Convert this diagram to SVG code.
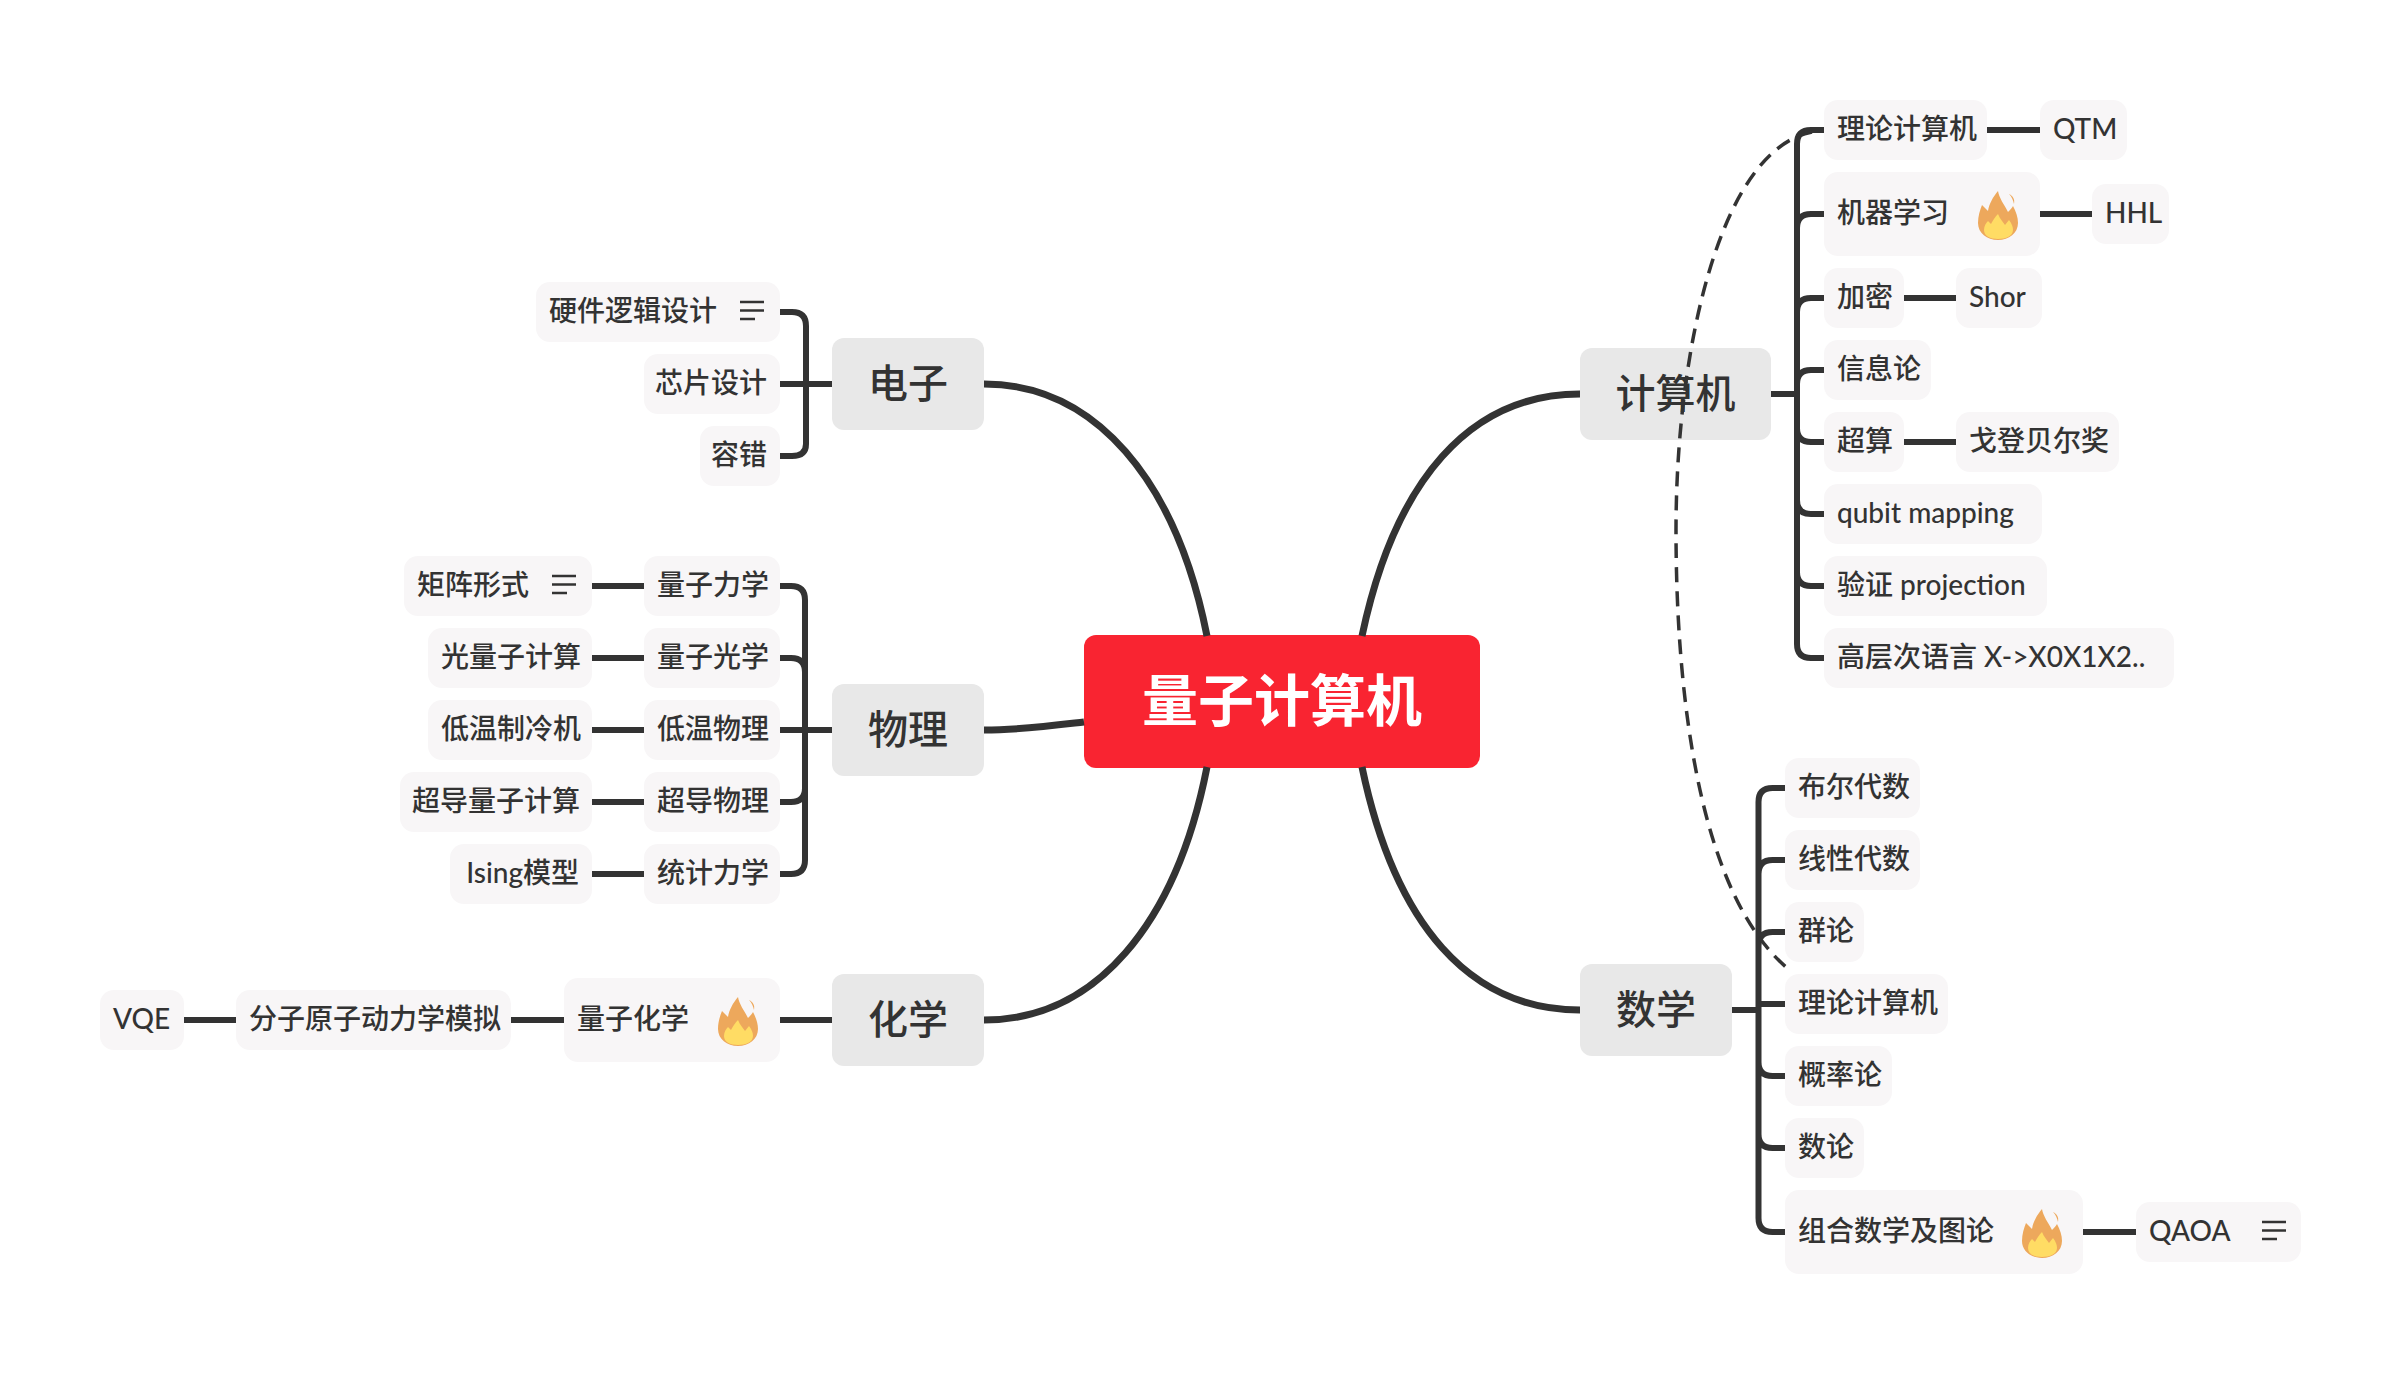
<svg xmlns="http://www.w3.org/2000/svg" xmlns:xlink="http://www.w3.org/1999/xlink" width="2402" height="1374" viewBox="0 0 2402 1374">
<style>
text{font-family:"Lato","Noto Sans CJK SC",sans-serif;fill:#333;font-weight:500}
.l{font-size:28px}
.m{font-size:40px;text-anchor:middle}
.c{font-size:56px;font-weight:700;fill:#fff;text-anchor:middle}
.e{text-anchor:end}
.n{fill:#F8F6F7}
.b{fill:#E8E8E8}
.r{fill:#F92431}
.w{fill:none;stroke:#333;stroke-width:6;stroke-linecap:butt}
.t{fill:none;stroke:#333;stroke-width:7}
.d{fill:none;stroke:#333;stroke-width:3.5;stroke-dasharray:15 9}
.i{fill:none;stroke:#333;stroke-width:2.5}
</style>
<defs>
<g id="flame"><path fill="#EDA85C" d="M20 0C21 7 26 13 30 21C32 19 34 17 35 15C38 21 40 26 40 32C40 42 31 49 20 49C9 49 0 42 0 32C0 25 2 19 4 14C6 16 8 18 10 20C11 13 15 6 20 0Z"/><path fill="#FFDC64" d="M20 23C22 28 25 31 27 34L31 29C34 33 35 36 35 39C35 45 28 48 20 48C12 48 6 45 6 39C6 35 8 32 10 30L13 33C15 29 17 26 20 23Z"/><path fill="#EDA85C" d="M31 3C35 5 37 8 36 13C35 9 34 6 31 3Z"/></g>
<path id="note" class="i" d="M0 0H24M0 8.500H24M0 17H15"/>
</defs>
<rect width="2402" height="1374" fill="#fff"/>

<g id="root"><rect class="r" x="1084" y="635" width="396" height="133" rx="12"/><text class="c" x="1282" y="721">量子计算机</text></g>

<g id="n-dianzi"><rect class="b" x="832" y="338" width="152" height="92" rx="12"/><text class="m" x="908" y="398">电子</text></g>
<g id="n-wuli"><rect class="b" x="832" y="684" width="152" height="92" rx="12"/><text class="m" x="908" y="744">物理</text></g>
<g id="n-huaxue"><rect class="b" x="832" y="974" width="152" height="92" rx="12"/><text class="m" x="908" y="1034">化学</text></g>
<g id="n-jisuanji"><rect class="b" x="1580" y="348" width="191" height="92" rx="12"/><text class="m" x="1675.500" y="408">计算机</text></g>
<g id="n-shuxue"><rect class="b" x="1580" y="964" width="152" height="92" rx="12"/><text class="m" x="1656" y="1024">数学</text></g>

<g id="n-yingjian"><rect class="n" x="536" y="282" width="244" height="60" rx="14"/><text class="l" x="549" y="321">硬件逻辑设计</text><use xlink:href="#note" href="#note" x="740" y="302"/></g>
<g id="n-xinpian"><rect class="n" x="644" y="354" width="136" height="60" rx="14"/><text class="l e" x="767" y="393">芯片设计</text></g>
<g id="n-rongcuo"><rect class="n" x="700" y="426" width="80" height="60" rx="14"/><text class="l e" x="767" y="465">容错</text></g>

<g id="n-lzlx"><rect class="n" x="644" y="556" width="136" height="60" rx="14"/><text class="l" x="657" y="595">量子力学</text></g>
<g id="n-lzgx"><rect class="n" x="644" y="628" width="136" height="60" rx="14"/><text class="l" x="657" y="667">量子光学</text></g>
<g id="n-dwwl"><rect class="n" x="644" y="700" width="136" height="60" rx="14"/><text class="l" x="657" y="739">低温物理</text></g>
<g id="n-cdwl"><rect class="n" x="644" y="772" width="136" height="60" rx="14"/><text class="l" x="657" y="811">超导物理</text></g>
<g id="n-tjlx"><rect class="n" x="644" y="844" width="136" height="60" rx="14"/><text class="l" x="657" y="883">统计力学</text></g>

<g id="n-jzxs"><rect class="n" x="404" y="556" width="188" height="60" rx="14"/><text class="l" x="417" y="595">矩阵形式</text><use xlink:href="#note" href="#note" x="552" y="576"/></g>
<g id="n-glzjs"><rect class="n" x="428" y="628" width="164" height="60" rx="14"/><text class="l" x="441" y="667">光量子计算</text></g>
<g id="n-dwzlj"><rect class="n" x="428" y="700" width="164" height="60" rx="14"/><text class="l" x="441" y="739">低温制冷机</text></g>
<g id="n-cdlz"><rect class="n" x="400" y="772" width="192" height="60" rx="14"/><text class="l" x="412" y="811">超导量子计算</text></g>
<g id="n-ising"><rect class="n" x="450" y="844" width="142" height="60" rx="14"/><text class="l e" x="579" y="883">Ising模型</text></g>

<g id="n-lzhx"><rect class="n" x="564" y="978" width="216" height="84" rx="14"/><text class="l" x="577" y="1029">量子化学</text><use xlink:href="#flame" href="#flame" x="718" y="997"/></g>
<g id="n-fenzi"><rect class="n" x="236" y="990" width="275" height="60" rx="14"/><text class="l" x="249" y="1029">分子原子动力学模拟</text></g>
<g id="n-vqe"><rect class="n" x="100" y="990" width="84" height="60" rx="14"/><text class="l" x="113" y="1029">VQE</text></g>

<g id="n-llt1"><rect class="n" x="1824" y="100" width="163" height="60" rx="14"/><text class="l" x="1837" y="139">理论计算机</text></g>
<g id="n-qtm"><rect class="n" x="2040" y="100" width="87" height="60" rx="14"/><text class="l" x="2053" y="139">QTM</text></g>
<g id="n-jqxx"><rect class="n" x="1824" y="172" width="216" height="84" rx="14"/><text class="l" x="1837" y="223">机器学习</text><use xlink:href="#flame" href="#flame" x="1978" y="191"/></g>
<g id="n-hhl"><rect class="n" x="2092" y="184" width="77" height="60" rx="14"/><text class="l" x="2105" y="223">HHL</text></g>
<g id="n-jiami"><rect class="n" x="1824" y="268" width="80" height="60" rx="14"/><text class="l" x="1837" y="307">加密</text></g>
<g id="n-shor"><rect class="n" x="1956" y="268" width="86" height="60" rx="14"/><text class="l" x="1969" y="307">Shor</text></g>
<g id="n-xxl"><rect class="n" x="1824" y="340" width="107" height="60" rx="14"/><text class="l" x="1837" y="379">信息论</text></g>
<g id="n-chaosuan"><rect class="n" x="1824" y="412" width="80" height="60" rx="14"/><text class="l" x="1837" y="451">超算</text></g>
<g id="n-gordon"><rect class="n" x="1956" y="412" width="163" height="60" rx="14"/><text class="l" x="1969" y="451">戈登贝尔奖</text></g>
<g id="n-qubit"><rect class="n" x="1824" y="484" width="218" height="60" rx="14"/><text class="l" x="1837" y="523">qubit mapping</text></g>
<g id="n-yanzheng"><rect class="n" x="1824" y="556" width="223" height="60" rx="14"/><text class="l" x="1837" y="595">验证 projection</text></g>
<g id="n-gaoceng"><rect class="n" x="1824" y="628" width="350" height="60" rx="14"/><text class="l" x="1837" y="667">高层次语言 X-&gt;X0X1X2..</text></g>

<g id="n-buer"><rect class="n" x="1785" y="758" width="135" height="60" rx="14"/><text class="l" x="1798" y="797">布尔代数</text></g>
<g id="n-xianxing"><rect class="n" x="1785" y="830" width="135" height="60" rx="14"/><text class="l" x="1798" y="869">线性代数</text></g>
<g id="n-qunlun"><rect class="n" x="1785" y="902" width="79" height="60" rx="14"/><text class="l" x="1798" y="941">群论</text></g>
<g id="n-llt2"><rect class="n" x="1785" y="974" width="163" height="60" rx="14"/><text class="l" x="1798" y="1013">理论计算机</text></g>
<g id="n-gailv"><rect class="n" x="1785" y="1046" width="107" height="60" rx="14"/><text class="l" x="1798" y="1085">概率论</text></g>
<g id="n-shulun"><rect class="n" x="1785" y="1118" width="79" height="60" rx="14"/><text class="l" x="1798" y="1157">数论</text></g>
<g id="n-zuhe"><rect class="n" x="1785" y="1190" width="298" height="84" rx="14"/><text class="l" x="1798" y="1241">组合数学及图论</text><use xlink:href="#flame" href="#flame" x="2022" y="1209"/></g>
<g id="n-qaoa"><rect class="n" x="2136" y="1202" width="165" height="60" rx="14"/><text class="l" x="2149" y="1241">QAOA</text><use xlink:href="#note" href="#note" x="2262" y="1222"/></g>

<g id="connectors">
<path class="t" d="M1207 636C1176 480 1095 384 984 384"/>
<path class="t" d="M1084 722C1050 726 1020 730 984 730"/>
<path class="t" d="M1207 767C1176 925 1095 1020 984 1020"/>
<path class="t" d="M1362 636C1395 480 1470 394 1580 394"/>
<path class="t" d="M1362 767C1395 925 1470 1010 1580 1010"/>

<path class="w" d="M832 384H780M780 312H792Q806 312 806 326V444Q806 456 792 456H780"/>
<path class="w" d="M832 730H780M780 586H791Q805 586 805 600V860Q805 874 791 874H780M780 658H791Q805 658 805 672M780 802H791Q805 802 805 788"/>
<path class="w" d="M592 586H644M592 658H644M592 730H644M592 802H644M592 874H644"/>
<path class="w" d="M832 1020H780M780 1020H780M564 1020H511M236 1020H184M832 1020H780"/>

<path class="w" d="M1771 394H1797M1824 130H1811Q1797 130 1797 144V644Q1797 658 1811 658H1824M1824 214H1811Q1797 214 1797 228M1824 298H1811Q1797 298 1797 312M1824 370H1811Q1797 370 1797 384M1824 442H1811Q1797 442 1797 428M1824 514H1811Q1797 514 1797 500M1824 586H1811Q1797 586 1797 572"/>
<path class="w" d="M1987 130H2040M2040 214H2092M1904 298H1956M1904 442H1956"/>

<path class="w" d="M1732 1010H1758.500M1785 788H1772.500Q1758.500 788 1758.500 802V1218Q1758.500 1232 1772.500 1232H1785M1785 860H1772.500Q1758.500 860 1758.500 874M1785 932H1772.500Q1758.500 932 1758.500 946M1785 1004H1758.500M1785 1076H1772.500Q1758.500 1076 1758.500 1062M1785 1148H1772.500Q1758.500 1148 1758.500 1134"/>
<path class="w" d="M2083 1232H2136"/>

<path class="d" d="M1812 132C1720 150 1676 350 1676 530C1676 700 1700 900 1792 972"/>
</g>
</svg>
